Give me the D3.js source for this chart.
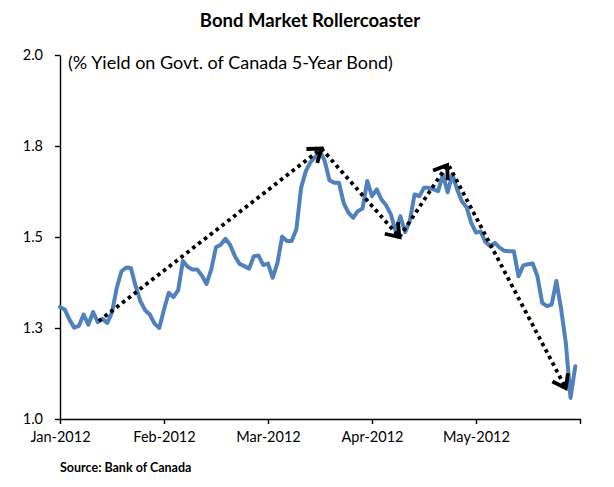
<!DOCTYPE html>
<html>
<head>
<meta charset="utf-8">
<script src="https://cdn.jsdelivr.net/npm/d3@7"></script>
<style>
  html, body { margin: 0; padding: 0; background: #fff; }
  svg { display: block; }
  text { font-family: Lato, "Open Sans", sans-serif; fill: #000; }
</style>
</head>
<body>
<svg id="chart" width="614" height="487"></svg>
<script>
// ---- data ----
const title = "Bond Market Rollercoaster";
const subtitle = "(% Yield on Govt. of Canada 5-Year Bond)";
const source = "Source: Bank of Canada";

// daily yield (%), trading-day index 0..109
const yields = [
  1.308, 1.301, 1.273, 1.251, 1.256, 1.287, 1.259, 1.294, 1.266, 1.275,
  1.264, 1.293, 1.360, 1.406, 1.416, 1.415, 1.365, 1.324, 1.299, 1.287,
  1.262, 1.250, 1.301, 1.347, 1.335, 1.354, 1.434, 1.418, 1.411, 1.411,
  1.394, 1.371, 1.411, 1.472, 1.479, 1.495, 1.478, 1.447, 1.426, 1.420,
  1.413, 1.447, 1.449, 1.423, 1.427, 1.388, 1.429, 1.501, 1.489, 1.489,
  1.521, 1.635, 1.681, 1.706, 1.720, 1.736, 1.709, 1.656, 1.649, 1.649,
  1.594, 1.567, 1.553, 1.571, 1.578, 1.654, 1.612, 1.631, 1.603, 1.587,
  1.562, 1.516, 1.557, 1.513, 1.544, 1.617, 1.612, 1.635, 1.635, 1.631,
  1.626, 1.672, 1.623, 1.672, 1.631, 1.598, 1.582, 1.539, 1.512, 1.515,
  1.486, 1.475, 1.484, 1.471, 1.462, 1.461, 1.461, 1.392, 1.422, 1.425,
  1.427, 1.392, 1.319, 1.310, 1.314, 1.379, 1.303, 1.209, 1.058, 1.145
];

// category axis: ticks every 22 trading days
const xTickIndex = [0, 22, 44, 66, 88, 110];
const xTickLabels = ["Jan-2012", "Feb-2012", "Mar-2012", "Apr-2012", "May-2012", ""];
const xDomain = [0, 110];

const yTickValues = [1.0, 1.25, 1.5, 1.75, 2.0];
const yTickLabels = ["1.0", "1.3", "1.5", "1.8", "2.0"];
const yDomain = [1.0, 2.0];

// annotation arrows: [startIndex, startValue, endIndex, endValue]
const arrowFromIdx = [8.2, 55.3, 71.8, 82.3];
const arrowFromVal = [1.269, 1.743, 1.500, 1.695];
const arrowToIdx   = [55.3, 71.8, 81.9, 107.0];
const arrowToVal   = [1.743, 1.500, 1.697, 1.085];

// ---- drawing ----
const svg = d3.select("#chart");
svg.append("rect").attr("width", 614).attr("height", 487).attr("fill", "#fff");

const x = d3.scaleLinear().domain(xDomain).range([60, 580]);
const y = d3.scaleLinear().domain(yDomain).range([419, 55]);

// title
svg.append("text")
  .attr("x", 310).attr("y", 27)
  .attr("text-anchor", "middle")
  .style("font-size", "18.5px").style("font-weight", "bold")
  .text(title);

svg.append("text")
  .attr("x", 68).attr("y", 69)
  .style("font-size", "18px")
  .text(subtitle);

// y axis
const yAxis = d3.axisLeft(y)
  .tickValues(yTickValues)
  .tickFormat((d, i) => yTickLabels[i])
  .tickSizeInner(5).tickSizeOuter(0).tickPadding(12);
const gy = svg.append("g").attr("transform", "translate(60,0)").call(yAxis);
gy.select(".domain").attr("stroke", "#000").attr("stroke-width", 1.4);
gy.selectAll(".tick line").attr("stroke", "#000").attr("stroke-width", 1.4);
gy.selectAll(".tick text")
  .style("font-size", "14.5px").style("font-family", "Lato, sans-serif").attr("fill", "#000");

// x axis
const xAxis = d3.axisBottom(x)
  .tickValues(xTickIndex)
  .tickFormat((d, i) => xTickLabels[i])
  .tickSizeInner(5).tickSizeOuter(0).tickPadding(8);
const gx = svg.append("g").attr("transform", "translate(0,419)").call(xAxis);
gx.select(".domain").attr("stroke", "#000").attr("stroke-width", 1.4);
gx.selectAll(".tick line").attr("stroke", "#000").attr("stroke-width", 1.4);
gx.selectAll(".tick text")
  .style("font-size", "14.5px").style("font-family", "Lato, sans-serif").attr("fill", "#000");

// series line
const line = d3.line()
  .x((d, i) => x(i))
  .y(d => y(d))
  .curve(d3.curveLinear);
svg.append("path")
  .datum(yields)
  .attr("d", line)
  .attr("fill", "none")
  .attr("stroke", "#4F81BD")
  .attr("stroke-width", 4)
  .attr("stroke-linejoin", "round")
  .attr("stroke-linecap", "round");

// dotted arrows
const arrows = arrowFromIdx.map((d, i) => ({
  x1: x(arrowFromIdx[i]), y1: y(arrowFromVal[i]),
  x2: x(arrowToIdx[i]), y2: y(arrowToVal[i])
}));
const ga = svg.append("g");
ga.selectAll("line.dot")
  .data(arrows).enter().append("line")
  .attr("x1", d => d.x1).attr("y1", d => d.y1)
  .attr("x2", d => d.x2).attr("y2", d => d.y2)
  .attr("stroke", "#000")
  .attr("stroke-width", 3.8)
  .attr("stroke-dasharray", "3.6 3.8");

ga.selectAll("path.head")
  .data(arrows).enter().append("path")
  .attr("d", d => {
    const ang = Math.atan2(d.y2 - d.y1, d.x2 - d.x1);
    const L = 15, a = Math.PI / 5;
    const p1 = [d.x2 - L * Math.cos(ang - a), d.y2 - L * Math.sin(ang - a)];
    const p2 = [d.x2 - L * Math.cos(ang + a), d.y2 - L * Math.sin(ang + a)];
    return `M${p1[0]},${p1[1]}L${d.x2},${d.y2}L${p2[0]},${p2[1]}`;
  })
  .attr("fill", "none")
  .attr("stroke", "#000")
  .attr("stroke-width", 3.8)
  .attr("stroke-linejoin", "miter");

// source
svg.append("text")
  .attr("x", 60).attr("y", 472)
  .style("font-size", "12.5px").style("font-weight", "bold")
  .text(source);
</script>
</body>
</html>
